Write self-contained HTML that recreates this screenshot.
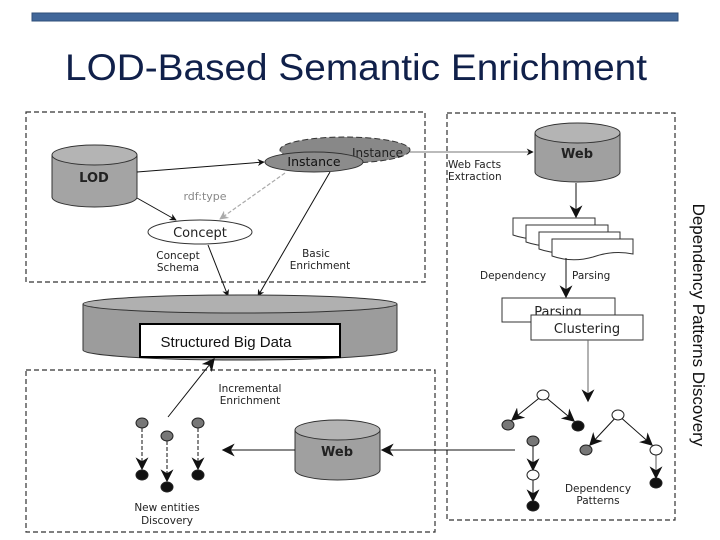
<!DOCTYPE html>
<html><head><meta charset="utf-8"><style>
body{margin:0;background:#fff}
svg{display:block}
text{font-family:"DejaVu Sans","Liberation Sans",sans-serif}
</style></head><body>
<svg width="720" height="540" viewBox="0 0 720 540" xmlns="http://www.w3.org/2000/svg">
<defs>
<marker id="a" viewBox="0 0 10 10" refX="9" refY="5" markerWidth="7" markerHeight="7" orient="auto-start-reverse" markerUnits="userSpaceOnUse"><path d="M0,0 L10,5 L0,10 L3,5z" fill="#111"/></marker>
<marker id="g" viewBox="0 0 10 10" refX="9" refY="5" markerWidth="9" markerHeight="9" orient="auto" markerUnits="userSpaceOnUse"><path d="M0,0 L10,5 L0,10 L3,5z" fill="#aaa"/></marker>
<marker id="b" viewBox="0 0 10 10" refX="9" refY="5" markerWidth="13" markerHeight="13" orient="auto" markerUnits="userSpaceOnUse"><path d="M0,0 L10,5 L0,10 L3,5z" fill="#111"/></marker>
</defs>
<rect x="32" y="13" width="646" height="8" fill="#41679a" stroke="#2f4f7a" stroke-width="1"/>
<text x="356" y="80" font-family="Liberation Sans" font-size="37" fill="#10204a" text-anchor="middle" textLength="582" lengthAdjust="spacingAndGlyphs" style="font-family:'Liberation Sans',sans-serif">LOD-Based Semantic Enrichment</text>

<g fill="none" stroke="#333" stroke-width="1.2" stroke-dasharray="5,3">
<rect x="26" y="112" width="399" height="170"/>
<rect x="447" y="113" width="228" height="407"/>
<rect x="26" y="370" width="409" height="162"/>
</g>

<!-- LOD cylinder -->
<path d="M52,155 V197 A42.5,10 0 0 0 137,197 V155" fill="#a4a4a4" stroke="#333"/>
<ellipse cx="94.5" cy="155" rx="42.5" ry="10" fill="#b4b4b4" stroke="#333"/>
<text x="94" y="182" font-size="13" font-weight="bold" text-anchor="middle" fill="#222">LOD</text>

<!-- instances -->
<ellipse cx="345" cy="150" rx="65" ry="13" fill="#888" stroke="#333" stroke-dasharray="6,3"/>
<text x="352" y="157" font-size="12" fill="#222">Instance</text>
<ellipse cx="314" cy="162" rx="49" ry="10" fill="#8c8c8c" stroke="#333"/>
<text x="314" y="166" font-size="12.5" text-anchor="middle" fill="#111">Instance</text>

<!-- concept -->
<ellipse cx="200" cy="232" rx="52" ry="12" fill="#fff" stroke="#333"/>
<text x="200" y="237" font-size="13" text-anchor="middle" fill="#222">Concept</text>

<line x1="137" y1="172" x2="264" y2="162" stroke="#111" marker-end="url(#a)"/>
<line x1="137" y1="198" x2="176" y2="220" stroke="#111" marker-end="url(#a)"/>
<line x1="285" y1="173" x2="220" y2="219" stroke="#aaa" stroke-dasharray="4,2" stroke-width="1.2" marker-end="url(#g)"/>
<text x="205" y="200" font-size="11" fill="#888" text-anchor="middle">rdf:type</text>
<line x1="208" y1="245" x2="228" y2="296" stroke="#111" marker-end="url(#a)"/>
<line x1="330" y1="172" x2="258" y2="296" stroke="#111" marker-end="url(#a)"/>
<text x="178" y="259" font-size="10.5" text-anchor="middle" fill="#222">Concept</text>
<text x="178" y="271" font-size="10.5" text-anchor="middle" fill="#222">Schema</text>
<text x="316" y="257" font-size="10.5" text-anchor="middle" fill="#222">Basic</text>
<text x="320" y="269" font-size="10.5" text-anchor="middle" fill="#222">Enrichment</text>

<!-- structured big data -->
<path d="M83,304 V350 A157,10 0 0 0 397,350 V304" fill="#9c9c9c" stroke="#333"/>
<ellipse cx="240" cy="304" rx="157" ry="9" fill="#b0b0b0" stroke="#333"/>
<rect x="140" y="324" width="200" height="33" fill="#fff" stroke="#000" stroke-width="2"/>
<text x="226" y="347" font-size="15" text-anchor="middle" fill="#111" style="font-family:'Liberation Sans',sans-serif">Structured Big Data</text>

<!-- Web cylinder top right -->
<path d="M535,133 V172 A42.5,10 0 0 0 620,172 V133" fill="#a0a0a0" stroke="#333"/>
<ellipse cx="577.5" cy="133" rx="42.5" ry="10" fill="#b4b4b4" stroke="#333"/>
<text x="577" y="158" font-size="13" font-weight="bold" text-anchor="middle" fill="#222">Web</text>
<line x1="410" y1="152" x2="533" y2="152" stroke="#777" marker-end="url(#a)"/>
<text x="448" y="168" font-size="10.5" fill="#222">Web Facts</text>
<text x="448" y="180" font-size="10.5" fill="#222">Extraction</text>
<line x1="576" y1="183" x2="576" y2="217" stroke="#111" marker-end="url(#b)"/>

<!-- documents -->
<g fill="#fff" stroke="#333">
<path d="M513,218 H595 V233 Q575,229 554,236 Q533,242 513,235 Z"/>
<path d="M526,225 H608 V240 Q588,236 567,243 Q546,249 526,242 Z"/>
<path d="M539,232 H620 V247 Q600,243 580,250 Q559,256 539,249 Z"/>
<path d="M552,239 H633 V254 Q613,250 593,257 Q572,263 552,256 Z"/>
</g>
<line x1="566" y1="258" x2="566" y2="297" stroke="#111" marker-end="url(#b)"/>
<text x="480" y="279" font-size="10.5" fill="#222">Dependency</text>
<text x="572" y="279" font-size="10.5" fill="#222">Parsing</text>

<rect x="502" y="298" width="113" height="24" fill="#fff" stroke="#333"/>
<text x="558" y="316" font-size="13" text-anchor="middle" fill="#222">Parsing</text>
<rect x="531" y="315" width="112" height="25" fill="#fff" stroke="#333"/>
<text x="587" y="333" font-size="13" text-anchor="middle" fill="#222">Clustering</text>
<line x1="588" y1="340" x2="588" y2="401" stroke="#666" marker-end="url(#b)"/>

<!-- trees -->
<g stroke="#111">
<line x1="543" y1="395" x2="512" y2="420" marker-end="url(#b)"/>
<line x1="543" y1="395" x2="574" y2="421" marker-end="url(#b)"/>
<line x1="618" y1="415" x2="590" y2="445" marker-end="url(#b)"/>
<line x1="618" y1="415" x2="652" y2="445" marker-end="url(#b)"/>
<line x1="533" y1="441" x2="533" y2="470" marker-end="url(#b)"/>
<line x1="533" y1="475" x2="533" y2="501" marker-end="url(#b)"/>
<line x1="656" y1="450" x2="656" y2="478" stroke="#555" marker-end="url(#b)"/>
</g>
<g stroke="#222">
<ellipse cx="543" cy="395" rx="6" ry="5" fill="#fff"/>
<ellipse cx="508" cy="425" rx="6" ry="5" fill="#777"/>
<ellipse cx="578" cy="426" rx="6" ry="5" fill="#111"/>
<ellipse cx="533" cy="441" rx="6" ry="5" fill="#777"/>
<ellipse cx="533" cy="475" rx="6" ry="5" fill="#fff"/>
<ellipse cx="533" cy="506" rx="6" ry="5" fill="#111"/>
<ellipse cx="618" cy="415" rx="6" ry="5" fill="#fff"/>
<ellipse cx="586" cy="450" rx="6" ry="5" fill="#777"/>
<ellipse cx="656" cy="450" rx="6" ry="5" fill="#fff"/>
<ellipse cx="656" cy="483" rx="6" ry="5" fill="#111"/>
</g>
<text x="598" y="492" font-size="10.5" text-anchor="middle" fill="#222">Dependency</text>
<text x="598" y="504" font-size="10.5" text-anchor="middle" fill="#222">Patterns</text>

<text transform="translate(693,325) rotate(90)" font-size="17" text-anchor="middle" fill="#111" style="font-family:'Liberation Sans',sans-serif">Dependency Patterns Discovery</text>

<!-- bottom web -->
<line x1="515" y1="450" x2="382" y2="450" stroke="#111" marker-end="url(#b)"/>
<path d="M295,430 V470 A42.5,10 0 0 0 380,470 V430" fill="#a0a0a0" stroke="#333"/>
<ellipse cx="337.5" cy="430" rx="42.5" ry="10" fill="#b4b4b4" stroke="#333"/>
<text x="337" y="456" font-size="13" font-weight="bold" text-anchor="middle" fill="#222">Web</text>
<line x1="295" y1="450" x2="223" y2="450" stroke="#111" marker-end="url(#b)"/>

<!-- new entities -->
<line x1="168" y1="417" x2="214" y2="359" stroke="#111" marker-end="url(#b)"/>
<text x="250" y="392" font-size="10.5" text-anchor="middle" fill="#222">Incremental</text>
<text x="250" y="404" font-size="10.5" text-anchor="middle" fill="#222">Enrichment</text>
<g stroke="#111" stroke-dasharray="4,2">
<line x1="142" y1="428" x2="142" y2="469" marker-end="url(#b)"/>
<line x1="167" y1="441" x2="167" y2="481" marker-end="url(#b)"/>
<line x1="198" y1="428" x2="198" y2="469" marker-end="url(#b)"/>
</g>
<g stroke="#222">
<ellipse cx="142" cy="423" rx="6" ry="5" fill="#777"/>
<ellipse cx="167" cy="436" rx="6" ry="5" fill="#777"/>
<ellipse cx="198" cy="423" rx="6" ry="5" fill="#777"/>
<ellipse cx="142" cy="475" rx="6" ry="5" fill="#111"/>
<ellipse cx="167" cy="487" rx="6" ry="5" fill="#111"/>
<ellipse cx="198" cy="475" rx="6" ry="5" fill="#111"/>
</g>
<text x="167" y="511" font-size="10.5" text-anchor="middle" fill="#222">New entities</text>
<text x="167" y="524" font-size="10.5" text-anchor="middle" fill="#222">Discovery</text>
</svg>
</body></html>
